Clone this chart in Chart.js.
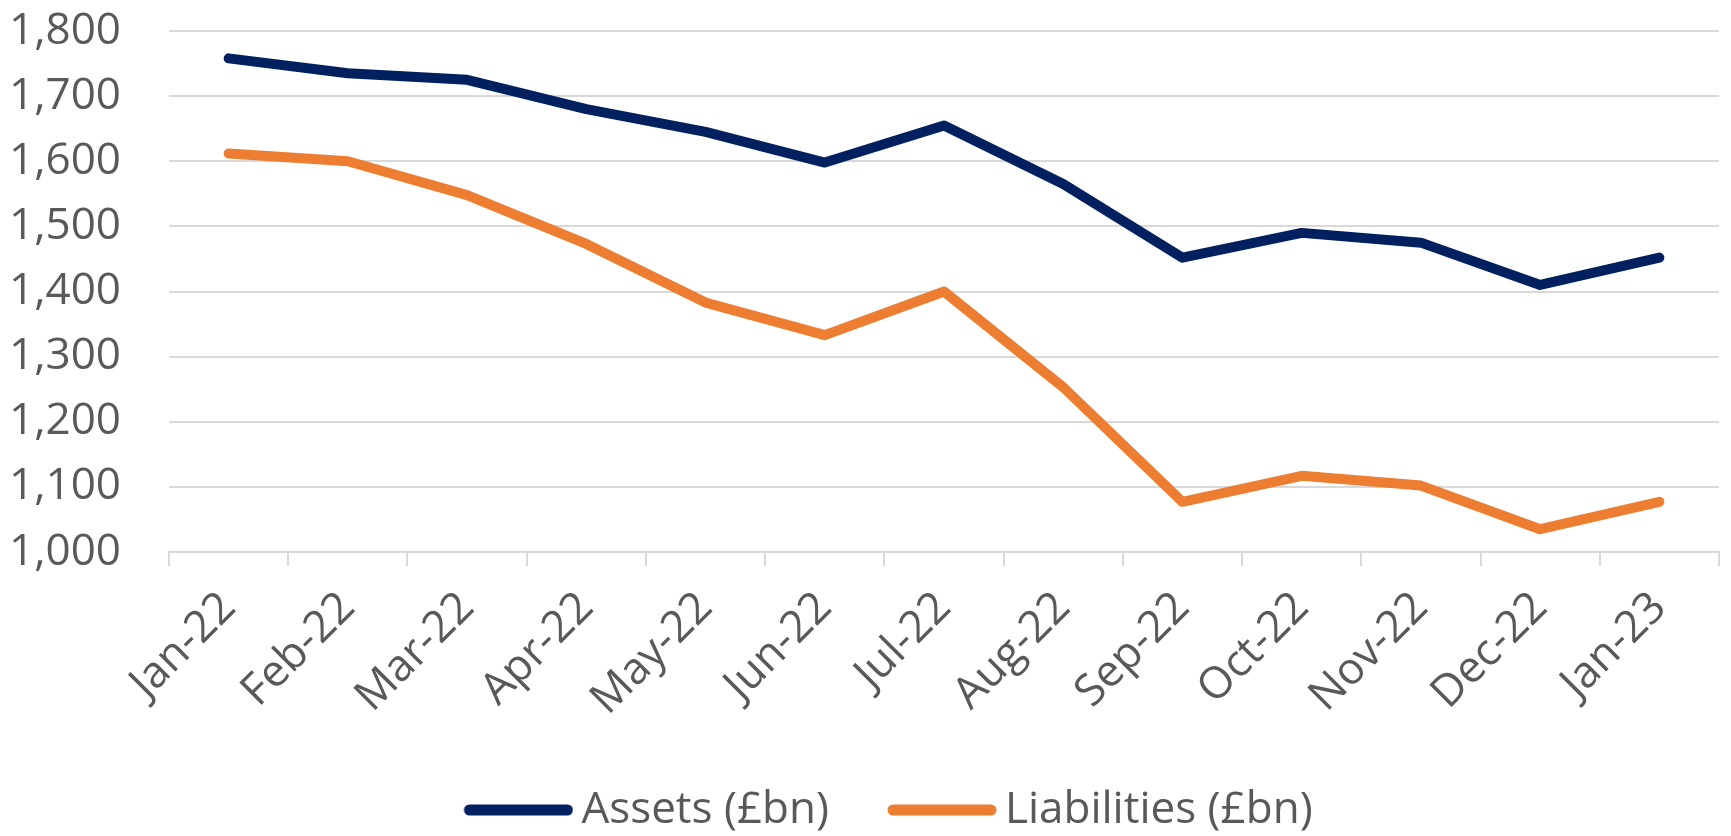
<!DOCTYPE html>
<html>
<head>
<meta charset="utf-8">
<script src="https://cdn.jsdelivr.net/npm/chart.js@4"></script>
<style>
    html, body { margin: 0; padding: 0; background: #ffffff; }
    #wrap { width: 1731px; height: 836px; }
</style>
</head>
<body>
<div id="wrap"><canvas id="balanceChart"></canvas></div>
<script>
const months = ["Jan-22", "Feb-22", "Mar-22", "Apr-22", "May-22", "Jun-22", "Jul-22",
    "Aug-22", "Sep-22", "Oct-22", "Nov-22", "Dec-22", "Jan-23"];
const assets = [1758, 1735, 1725, 1680, 1645, 1598, 1655, 1565, 1452, 1490, 1475, 1410, 1452];
const liabilities = [1612, 1600, 1548, 1473, 1383, 1333, 1400, 1253, 1077, 1117, 1102, 1035, 1077];

const textColor = "#595959";
const gridColor = "#d9d9d9";
const fontFamily = "'Open Sans', 'Noto Sans', sans-serif";
const fontSize = 44;
const yTickPad = 48;

// legend swatch: a thick round-capped line, shifted so it sits close to its text
function legendLine(color) {
    const c = document.createElement("canvas");
    c.width = 128;
    c.height = 14;
    const g = c.getContext("2d");
    g.strokeStyle = color;
    g.lineWidth = 11;
    g.lineCap = "round";
    g.beginPath();
    g.moveTo(24, 7);
    g.lineTo(122, 7);
    g.stroke();
    return c;
}

function makeDataset(label, data, color) {
    return {
        label: label,
        data: data,
        borderColor: color,
        backgroundColor: color,
        borderWidth: 10,
        borderCapStyle: "round",
        borderJoinStyle: "round",
        pointRadius: 0,
        pointStyle: legendLine(color),
        fill: false,
        tension: 0,
    };
}

// fixed legend box height, and a small nudge to the right like the original
const legendPlace = {
    id: "legendPlace",
    beforeInit(chart) {
        const fit = chart.legend.fit;
        chart.legend.fit = function () {
            fit.call(this);
            this.height = 102;
        };
    },
    afterLayout(chart) {
        chart.legend.left += 22;
        chart.legend.right += 22;
    },
};

const ctx = document.getElementById("balanceChart");

new Chart(ctx, {
    type: "line",
    data: {
        labels: months,
        datasets: [
            makeDataset("Assets (£bn)", assets, "#002060"),
            makeDataset("Liabilities (£bn)", liabilities, "#ed7d31"),
        ],
    },
    plugins: [legendPlace],
    options: {
        responsive: true,
        maintainAspectRatio: false,
        animation: false,
        layout: { padding: { top: 31, right: 12, left: 9, bottom: 0 } },
        plugins: {
            legend: {
                position: "bottom",
                labels: {
                    usePointStyle: true,
                    pointStyleWidth: 100,
                    boxHeight: 14,
                    color: textColor,
                    font: { family: fontFamily, size: fontSize },
                    padding: 54,
                },
            },
            tooltip: { enabled: false },
        },
        scales: {
            x: {
                offset: true,
                grid: {
                    offset: true,
                    drawOnChartArea: false,
                    color: gridColor,
                    lineWidth: 2,
                    tickLength: 14,
                },
                border: { color: gridColor, width: 2 },
                ticks: {
                    color: textColor,
                    font: { family: fontFamily, size: fontSize },
                    maxRotation: 45,
                    minRotation: 45,
                    padding: 16,
                },
                afterFit(scale) {
                    scale.height = 182;
                    scale.paddingLeft = 0;
                    scale.paddingRight = 0;
                },
            },
            y: {
                min: 1000,
                max: 1800,
                grid: { color: gridColor, lineWidth: 2, drawTicks: false },
                border: { display: false },
                ticks: {
                    stepSize: 100,
                    color: textColor,
                    font: { family: fontFamily, size: fontSize },
                    padding: yTickPad,
                    callback: (v) => v.toLocaleString("en-US"),
                },
                afterFit(scale) {
                    // chart.js counts the tick padding twice; drop the outer one
                    scale.width -= yTickPad;
                    scale.paddingTop = 0;
                    scale.paddingBottom = 0;
                },
            },
        },
    },
});
</script>
</body>
</html>
